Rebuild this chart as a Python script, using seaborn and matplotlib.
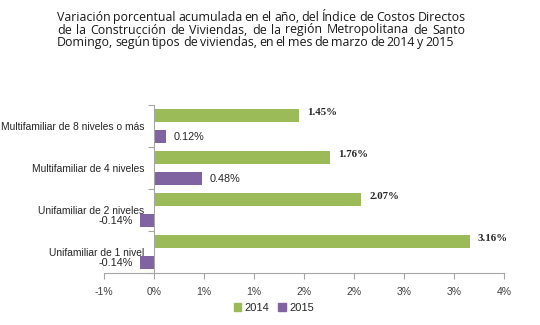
import matplotlib
matplotlib.use("Agg")
import matplotlib.pyplot as plt
import seaborn as sns
import pandas as pd
import numpy as np
from matplotlib.patches import Patch

# ---------------- data ----------------
categories = ["Multifamiliar de 8 niveles o más", "Multifamiliar de 4 niveles",
              "Unifamiliar de 2 niveles", "Unifamiliar de 1 nivel"]
years = ["2014", "2015"]
values_2014 = [1.45, 1.76, 2.07, 3.16]
values_2015 = [0.12, 0.48, -0.14, -0.14]
xticks = [-0.5, 0.0, 0.5, 1.0, 1.5, 2.0, 2.5, 3.0, 3.5]
xtick_labels = ["-1%", "0%", "1%", "1%", "2%", "2%", "3%", "3%", "4%"]
title_lines = [
    "Variación porcentual acumulada en el año, del Índice de Costos Directos",
    "de la Construcción de Viviendas, de la región Metropolitana de Santo",
    "Domingo, según tipos de viviendas, en el mes de marzo de 2014 y 2015",
]

df = pd.DataFrame({
    "cat": categories * 2,
    "val": values_2014 + values_2015,
    "year": [years[0]] * 4 + [years[1]] * 4,
})

GREEN = "#9BBB59"
PURPLE = "#8064A2"
W, H = 540, 325

sns.set_style("white")
plt.rcParams["font.family"] = ["Liberation Sans", "DejaVu Sans"]

fig = plt.figure(figsize=(W / 100, H / 100), dpi=100)
ax = fig.add_axes([104 / W, 1 - 273 / H, 400 / W, 168 / H])

sns.barplot(data=df, y="cat", x="val", hue="year", orient="h",
            palette=[GREEN, PURPLE], width=0.96, gap=0.35,
            ax=ax, legend=False, edgecolor="none", saturation=1)

ax.set_xlim(-0.5, 3.5)
ax.set_ylim(3.5, -0.5)
ax.set_xlabel("")
ax.set_ylabel("")

# spines
for s in ["top", "right"]:
    ax.spines[s].set_visible(False)
ax.spines["left"].set_position(("data", 0))
ax.spines["left"].set_color("#A6A6A6")
ax.spines["bottom"].set_color("#A6A6A6")
ax.spines["left"].set_linewidth(0.8)
ax.spines["bottom"].set_linewidth(0.8)

ax.set_xticks(xticks)
ax.set_xticklabels(xtick_labels)
ax.tick_params(axis="x", length=4, width=0.8, color="#A6A6A6",
               labelsize=7.5, labelcolor="#404040", pad=6, direction="out",
               bottom=True)

ax.set_yticks(range(len(categories)))
ax.set_yticklabels(categories)
ax.tick_params(axis="y", length=0, labelsize=7.4, labelcolor="#262626", pad=7)
ax.set_yticks([-0.5, 0.5, 1.5, 2.5, 3.5], minor=True)
ax.tick_params(axis="y", which="minor", length=4, width=0.8, color="#A6A6A6",
               left=True)

# value labels
off = 0.08
for i, v in enumerate(values_2014):
    ax.text(v + off, i - 0.31, f"{v:.2f}%", ha="left", va="center",
            fontsize=7.8, fontweight="bold", family="Liberation Serif",
            color="#262626")
for i, v in enumerate(values_2015):
    if v >= 0:
        ax.text(v + off, i + 0.25, f"{v:.2f}%", ha="left", va="center",
                fontsize=7.8, color="#262626")
    else:
        ax.text(v - 0.07, i + 0.25, f"{v:.2f}%", ha="right", va="center",
                fontsize=7.8, color="#262626")

# legend
handles = [Patch(color=GREEN, label=years[0]), Patch(color=PURPLE, label=years[1])]
fig.legend(handles=handles, loc="center", bbox_to_anchor=(274 / W, 1 - 308 / H),
           ncol=2, frameon=False, fontsize=8, handlelength=0.7, handleheight=0.7,
           handletextpad=0.3, columnspacing=0.8)

# justified title
renderer = fig.canvas.get_renderer()
line_specs = [(21, 409), (33.5, 408), (46, 397)]
for line, (yb, width) in zip(title_lines, line_specs):
    words = line.split(" ")
    texts = [fig.text(0, 0, w, fontsize=8.9, color="#1a1a1a", va="baseline",
                      family="Open Sans")
             for w in words]
    widths = [t.get_window_extent(renderer).width for t in texts]
    gap = (width - sum(widths)) / (len(words) - 1)
    x = 57
    for t, wd in zip(texts, widths):
        t.set_position((x / W, 1 - yb / H))
        x += wd + gap

fig.savefig("out.png", dpi=100)
